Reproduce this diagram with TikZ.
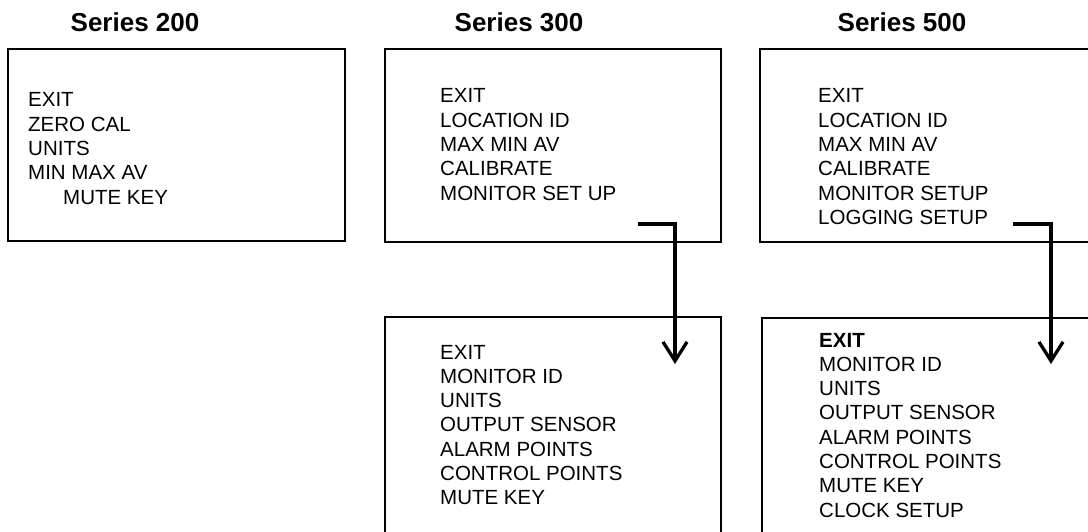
\documentclass[tikz,border=0pt]{standalone}
\usepackage{fontspec}
\setmainfont{Liberation Sans}
\usetikzlibrary{arrows.meta}
\begin{document}
\begin{tikzpicture}[x=1pt,y=-1pt,
  box/.style={draw=black,line width=1.6pt,rectangle,anchor=north west,inner sep=0pt},
  menu/.style={anchor=base west,inner sep=0pt,font=\fontsize{20.5}{24.3}\selectfont},
  title/.style={anchor=base,inner sep=0pt,font=\fontsize{26}{30}\selectfont\bfseries},
  conn/.style={line width=3.3pt,-{Straight Barb[length=19pt,width=24pt,line width=3.3pt]}}]
\path[use as bounding box,clip] (0,0) rectangle (1088,532);
\fill[white] (0,0) rectangle (1088,532);
% titles
\node[title] (h200) at (135,32) {Series 200};
\node[title] (h300) at (519,32) {Series 300};
\node[title] (h500) at (902,32) {Series 500};
% boxes
\node[box,minimum width=337pt,minimum height=192pt] (b200) at (7,48) {};
\node[box,minimum width=336pt,minimum height=193pt] (b300) at (384,48) {};
\node[box,minimum width=360pt,minimum height=193pt] (b500) at (759,48) {};
\node[box,minimum width=336pt,minimum height=240pt] (b300s) at (384,316) {};
\node[box,minimum width=360pt,minimum height=240pt] (b500s) at (761,317) {};
% menus
\node[menu] (t200) at (28,107) {\begin{tabular}[t]{@{}l@{}}EXIT\\ZERO CAL\\UNITS\\MIN MAX AV\\\hspace*{35pt}MUTE KEY\end{tabular}};
\node[menu] (t300) at (440,103) {\begin{tabular}[t]{@{}l@{}}EXIT\\LOCATION ID\\MAX MIN AV\\CALIBRATE\\MONITOR SET UP\end{tabular}};
\node[menu] (t500) at (818,103) {\begin{tabular}[t]{@{}l@{}}EXIT\\LOCATION ID\\MAX MIN AV\\CALIBRATE\\MONITOR SETUP\\LOGGING SETUP\end{tabular}};
\node[menu] (t300s) at (440,359) {\begin{tabular}[t]{@{}l@{}}EXIT\\MONITOR ID\\UNITS\\OUTPUT SENSOR\\ALARM POINTS\\CONTROL POINTS\\MUTE KEY\end{tabular}};
\node[menu] (t500s) at (819,347) {\begin{tabular}[t]{@{}l@{}}\textbf{EXIT}\\MONITOR ID\\UNITS\\OUTPUT SENSOR\\ALARM POINTS\\CONTROL POINTS\\MUTE KEY\\CLOCK SETUP\end{tabular}};
% connectors
\coordinate (a3s) at (638,224);
\coordinate (a3e) at (675,364);
\coordinate (a5s) at (1013,224);
\coordinate (a5e) at (1051,364);
\draw[conn] (a3s) -| (a3e);
\draw[conn] (a5s) -| (a5e);
\end{tikzpicture}
\end{document}
